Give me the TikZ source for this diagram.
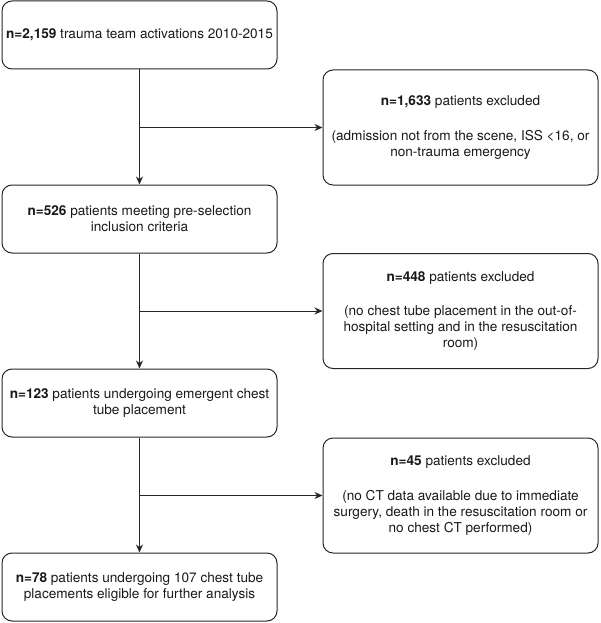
\documentclass[tikz,border=0pt]{standalone}
\usepackage{fontspec}
\setmainfont{TeX Gyre Heros}
\usetikzlibrary{arrows.meta}
\begin{document}
\begin{tikzpicture}[x=1pt,y=-1pt,
  box/.style={draw=black!85, line width=1pt, rounded corners=10pt, align=center,
    minimum width=275pt, inner sep=0pt, font=\fontsize{13.6}{16}\selectfont, text=black!90},
  lbox/.style={box, minimum height=68pt},
  rbox/.style={box, minimum height=115pt},
  conn/.style={draw=black!85, line width=1pt, -{Stealth[length=8pt,width=7pt]}}
]
\useasboundingbox (0,0) rectangle (600,623);
\node[lbox] (b1) at (139.5,35) {\textbf{n=2,159} trauma team activations 2010-2015};
\node[rbox] (b2) at (460.5,127.5) {\textbf{n=1,633} patients excluded\\[18.5pt]
(admission not from the scene, ISS <16, or\\non-trauma emergency};
\node[lbox] (b3) at (139.5,219) {\textbf{n=526} patients meeting pre-selection\\inclusion criteria};
\node[rbox] (b4) at (460.5,311) {\textbf{n=448} patients excluded\\[18.5pt]
(no chest tube placement in the out-of-\\hospital setting and in the resuscitation\\room)};
\node[lbox] (b5) at (139.5,403) {\textbf{n=123} patients undergoing emergent chest\\tube placement};
\node[rbox] (b6) at (460.5,495.5) {\textbf{n=45} patients excluded\\[18.5pt]
(no CT data available due to immediate\\surgery, death in the resuscitation room or\\no chest CT performed)};
\node[lbox] (b7) at (139.5,587) {\textbf{n=78} patients undergoing 107 chest tube\\placements eligible for further analysis};
\draw[conn] (b1.south) -- (b3.north);
\draw[conn] (b1.south |- b2.west) -- (b2.west);
\draw[conn] (b3.south) -- (b5.north);
\draw[conn] (b3.south |- b4.west) -- (b4.west);
\draw[conn] (b5.south) -- (b7.north);
\draw[conn] (b5.south |- b6.west) -- (b6.west);
\end{tikzpicture}
\end{document}
